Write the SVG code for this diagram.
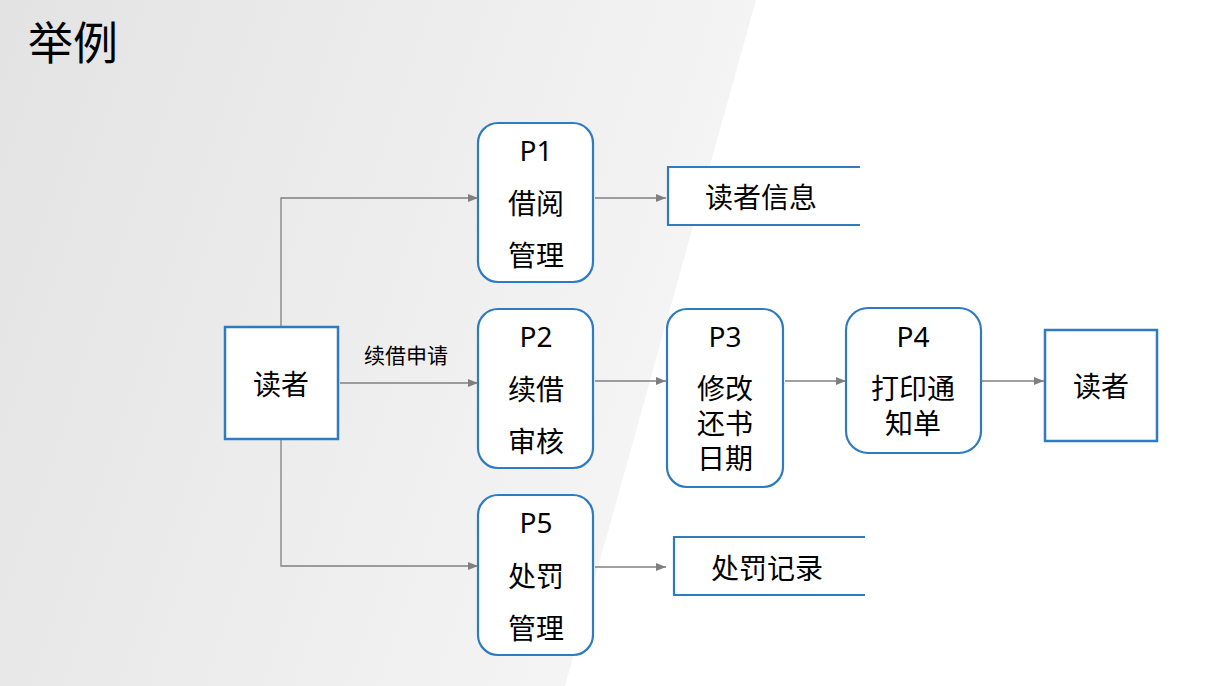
<svg xmlns="http://www.w3.org/2000/svg" width="1229" height="686" viewBox="0 0 1229 686">
<defs>
<linearGradient id="bg" x1="0" y1="0" x2="1" y2="0.3">
<stop offset="0" stop-color="#e3e3e3"/>
<stop offset="1" stop-color="#f5f5f5"/>
</linearGradient>
<marker id="arr" viewBox="0 0 10 10" refX="10" refY="5" markerWidth="10" markerHeight="10" markerUnits="userSpaceOnUse" orient="auto">
<path d="M0,1 L10,5 L0,9 Z" fill="#7f7f7f"/>
</marker>
<style>
.t{font-family:"Noto Sans","Noto Sans CJK SC",sans-serif;fill:#000;text-anchor:middle;dominant-baseline:central}
.n{font-size:28px}
.proc{fill:#fff;stroke:#2e7bbf;stroke-width:2.2}
.ent{fill:#fff;stroke:#2e7bbf;stroke-width:2.5}
.ds{fill:none;stroke:#2e7bbf;stroke-width:2.2}
.c{fill:none;stroke:#808080;stroke-width:1.3;marker-end:url(#arr)}
</style>
</defs>
<rect width="1229" height="686" fill="#fff"/>
<polygon points="0,0 756,0 565,686 0,686" fill="url(#bg)"/>
<text x="28" y="42" class="t" style="font-size:45px;text-anchor:start">举例</text>

<g id="connectors">
<polyline class="c" points="281,327 281,198 478,198"/>
<polyline class="c" points="281,439 281,566 478,566"/>
<line class="c" x1="340" y1="383" x2="478" y2="383"/>
<text x="406" y="355" class="t" style="font-size:21px">续借申请</text>
<line class="c" x1="595" y1="198" x2="666" y2="198"/>
<line class="c" x1="595" y1="381" x2="666" y2="381"/>
<line class="c" x1="785" y1="381" x2="846" y2="381"/>
<line class="c" x1="982" y1="381" x2="1044" y2="381"/>
<line class="c" x1="595" y1="567" x2="666" y2="567"/>
</g>

<g id="reader-left">
<rect class="ent" x="225" y="327" width="113" height="112"/>
<text x="281" y="384" class="t n">读者</text>
</g>

<g id="p1">
<rect class="proc" x="478" y="123" width="115" height="159" rx="20"/>
<text x="536" y="150" class="t n">P1</text>
<text x="536" y="203" class="t n">借阅</text>
<text x="536" y="255" class="t n">管理</text>
</g>

<g id="p2">
<rect class="proc" x="478" y="309" width="115" height="159" rx="20"/>
<text x="536" y="336" class="t n">P2</text>
<text x="536" y="389" class="t n">续借</text>
<text x="536" y="441" class="t n">审核</text>
</g>

<g id="p5">
<rect class="proc" x="478" y="495" width="115" height="160" rx="20"/>
<text x="536" y="522" class="t n">P5</text>
<text x="536" y="576" class="t n">处罚</text>
<text x="536" y="628" class="t n">管理</text>
</g>

<g id="p3">
<rect class="proc" x="667" y="309" width="116" height="178" rx="20"/>
<text x="725" y="336" class="t n">P3</text>
<text x="725" y="388" class="t n">修改</text>
<text x="725" y="423" class="t n">还书</text>
<text x="725" y="458" class="t n">日期</text>
</g>

<g id="p4">
<rect class="proc" x="846" y="308" width="135" height="145" rx="22"/>
<text x="913" y="336" class="t n">P4</text>
<text x="913" y="388" class="t n">打印通</text>
<text x="913" y="423" class="t n">知单</text>
</g>

<g id="reader-right">
<rect class="ent" x="1045" y="330" width="112" height="111"/>
<text x="1101" y="386" class="t n">读者</text>
</g>

<g id="ds-reader-info">
<rect x="668" y="167" width="192" height="58" fill="#fff"/>
<polyline class="ds" points="860,167 668,167 668,225 860,225"/>
<text x="761" y="197" class="t n">读者信息</text>
</g>

<g id="ds-penalty">
<rect x="674" y="537" width="191" height="58" fill="#fff"/>
<polyline class="ds" points="865,537 674,537 674,595 865,595"/>
<text x="767" y="568" class="t n">处罚记录</text>
</g>
</svg>
